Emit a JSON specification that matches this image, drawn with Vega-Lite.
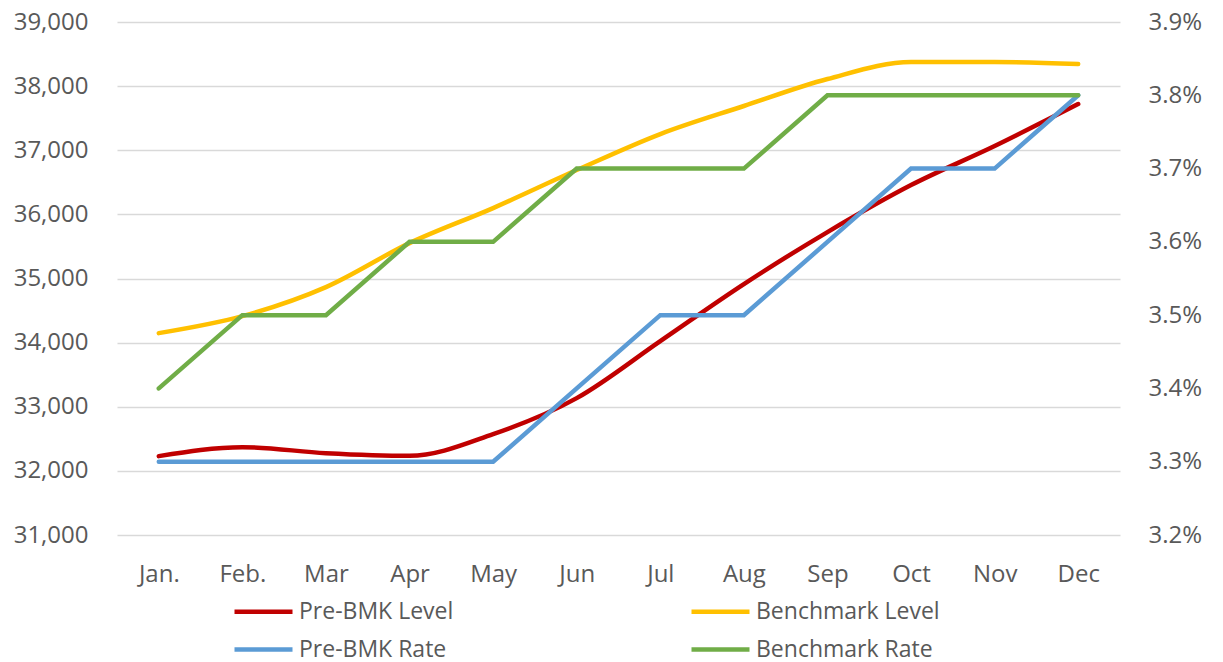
{
  "$schema": "https://vega.github.io/schema/vega-lite/v6.json",
  "width": 1003,
  "height": 513,
  "autosize": "none",
  "padding": {"left": 117, "top": 22, "right": 103, "bottom": 127},
  "background": "white",
  "config": {
    "view": {"stroke": null},
    "font": "Open Sans",
    "axis": {"labelFont": "Open Sans", "labelColor": "#595959", "labelFontSize": 24},
    "legend": {"labelFont": "Open Sans", "labelColor": "#595959", "labelFontSize": 23}
  },
  "datasets": {
    "levels": [
      {"month": "Jan.", "series": "Pre-BMK Level", "value": 32230},
      {"month": "Feb.", "series": "Pre-BMK Level", "value": 32370},
      {"month": "Mar", "series": "Pre-BMK Level", "value": 32276},
      {"month": "Apr", "series": "Pre-BMK Level", "value": 32235},
      {"month": "May", "series": "Pre-BMK Level", "value": 32573},
      {"month": "Jun", "series": "Pre-BMK Level", "value": 33134},
      {"month": "Jul", "series": "Pre-BMK Level", "value": 34023},
      {"month": "Aug", "series": "Pre-BMK Level", "value": 34913},
      {"month": "Sep", "series": "Pre-BMK Level", "value": 35724},
      {"month": "Oct", "series": "Pre-BMK Level", "value": 36457},
      {"month": "Nov", "series": "Pre-BMK Level", "value": 37066},
      {"month": "Dec", "series": "Pre-BMK Level", "value": 37721},
      {"month": "Jan.", "series": "Benchmark Level", "value": 34148},
      {"month": "Feb.", "series": "Benchmark Level", "value": 34413},
      {"month": "Mar", "series": "Benchmark Level", "value": 34866},
      {"month": "Apr", "series": "Benchmark Level", "value": 35552},
      {"month": "May", "series": "Benchmark Level", "value": 36098},
      {"month": "Jun", "series": "Benchmark Level", "value": 36691},
      {"month": "Jul", "series": "Benchmark Level", "value": 37253},
      {"month": "Aug", "series": "Benchmark Level", "value": 37690},
      {"month": "Sep", "series": "Benchmark Level", "value": 38111},
      {"month": "Oct", "series": "Benchmark Level", "value": 38376},
      {"month": "Nov", "series": "Benchmark Level", "value": 38376},
      {"month": "Dec", "series": "Benchmark Level", "value": 38345}
    ],
    "rates": [
      {"month": "Jan.", "series": "Pre-BMK Rate", "value": 0.033},
      {"month": "Feb.", "series": "Pre-BMK Rate", "value": 0.033},
      {"month": "Mar", "series": "Pre-BMK Rate", "value": 0.033},
      {"month": "Apr", "series": "Pre-BMK Rate", "value": 0.033},
      {"month": "May", "series": "Pre-BMK Rate", "value": 0.033},
      {"month": "Jun", "series": "Pre-BMK Rate", "value": 0.034},
      {"month": "Jul", "series": "Pre-BMK Rate", "value": 0.035},
      {"month": "Aug", "series": "Pre-BMK Rate", "value": 0.035},
      {"month": "Sep", "series": "Pre-BMK Rate", "value": 0.036},
      {"month": "Oct", "series": "Pre-BMK Rate", "value": 0.037},
      {"month": "Nov", "series": "Pre-BMK Rate", "value": 0.037},
      {"month": "Dec", "series": "Pre-BMK Rate", "value": 0.038},
      {"month": "Jan.", "series": "Benchmark Rate", "value": 0.034},
      {"month": "Feb.", "series": "Benchmark Rate", "value": 0.035},
      {"month": "Mar", "series": "Benchmark Rate", "value": 0.035},
      {"month": "Apr", "series": "Benchmark Rate", "value": 0.036},
      {"month": "May", "series": "Benchmark Rate", "value": 0.036},
      {"month": "Jun", "series": "Benchmark Rate", "value": 0.037},
      {"month": "Jul", "series": "Benchmark Rate", "value": 0.037},
      {"month": "Aug", "series": "Benchmark Rate", "value": 0.037},
      {"month": "Sep", "series": "Benchmark Rate", "value": 0.038},
      {"month": "Oct", "series": "Benchmark Rate", "value": 0.038},
      {"month": "Nov", "series": "Benchmark Rate", "value": 0.038},
      {"month": "Dec", "series": "Benchmark Rate", "value": 0.038}
    ]
  },
  "encoding": {
    "x": {
      "field": "month",
      "type": "ordinal",
      "sort": ["Jan.", "Feb.", "Mar", "Apr", "May", "Jun", "Jul", "Aug", "Sep", "Oct", "Nov", "Dec"],
      "scale": {"type": "point", "padding": 0.5},
      "axis": {"title": null, "labelAngle": 0, "domain": false, "ticks": false, "labelPadding": 27, "grid": false}
    },
    "color": {
      "field": "series",
      "type": "nominal",
      "scale": {
        "domain": ["Pre-BMK Level", "Pre-BMK Rate", "Benchmark Level", "Benchmark Rate"],
        "range": ["#C00000", "#5B9BD5", "#FFC000", "#70AD47"]
      },
      "legend": {
        "title": null,
        "orient": "none",
        "legendX": 134,
        "legendY": 577,
        "columns": 2,
        "columnPadding": 228,
        "rowPadding": 13,
        "symbolType": "M-2.9,0H2.9",
        "symbolSize": 400,
        "symbolStrokeWidth": 4.5,
        "labelOffset": 23,
        "labelLimit": 400
      }
    }
  },
  "layer": [
    {
      "data": {"name": "levels"},
      "mark": {"type": "line", "strokeWidth": 4.5, "interpolate": "monotone", "strokeCap": "round"},
      "encoding": {
        "y": {
          "field": "value",
          "type": "quantitative",
          "scale": {"domain": [31000, 39000], "nice": false, "zero": false},
          "axis": {
            "title": null,
            "orient": "left",
            "values": [31000, 32000, 33000, 34000, 35000, 36000, 37000, 38000, 39000],
            "format": ",d",
            "domain": false,
            "ticks": false,
            "labelPadding": 29,
            "grid": true,
            "gridColor": "#D9D9D9",
            "gridWidth": 1.5
          }
        }
      }
    },
    {
      "data": {"name": "rates"},
      "mark": {"type": "line", "strokeWidth": 4.5, "strokeCap": "round"},
      "encoding": {
        "y": {
          "field": "value",
          "type": "quantitative",
          "scale": {"domain": [0.032, 0.039], "nice": false, "zero": false},
          "axis": {
            "title": null,
            "orient": "right",
            "values": [0.032, 0.033, 0.034, 0.035, 0.036, 0.037, 0.038, 0.039],
            "format": ".1%",
            "domain": false,
            "ticks": false,
            "labelPadding": 28,
            "grid": false
          }
        }
      }
    }
  ],
  "resolve": {"scale": {"y": "independent"}}
}
